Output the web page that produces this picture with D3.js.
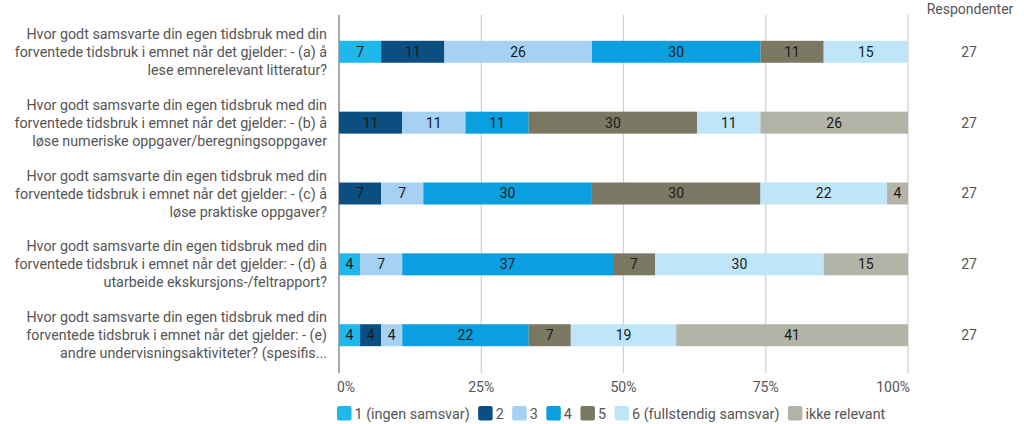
<!DOCTYPE html>
<html><head><meta charset="utf-8">
<script src="https://cdn.jsdelivr.net/npm/d3@7"></script>
<style>
body{margin:0;background:#fff;}
svg{display:block;font-family:Roboto,"Noto Sans",sans-serif;}
</style></head>
<body><svg id="chart" width="1024" height="424"></svg>
<script>
const questions = [
  ["Hvor godt samsvarte din egen tidsbruk med din","forventede tidsbruk i emnet når det gjelder: - (a) å","lese emnerelevant litteratur?"],
  ["Hvor godt samsvarte din egen tidsbruk med din","forventede tidsbruk i emnet når det gjelder: - (b) å","løse numeriske oppgaver/beregningsoppgaver"],
  ["Hvor godt samsvarte din egen tidsbruk med din","forventede tidsbruk i emnet når det gjelder: - (c) å","løse praktiske oppgaver?"],
  ["Hvor godt samsvarte din egen tidsbruk med din","forventede tidsbruk i emnet når det gjelder: - (d) å","utarbeide ekskursjons-/feltrapport?"],
  ["Hvor godt samsvarte din egen tidsbruk med din","forventede tidsbruk i emnet når det gjelder: - (e)","andre undervisningsaktiviteter? (spesifis..."]
];
const categories = ["1 (ingen samsvar)","2","3","4","5","6 (fullstendig samsvar)","ikke relevant"];
const colors = ["#1fb8ec","#0b4f82","#a6d1f3","#0a9fe0","#7a7763","#bfe5f9","#b3b3a7"];
// respondents per answer category, per question (27 each)
const countsA = [2,3,7,8,3,4,0];
const countsB = [0,3,3,3,8,3,7];
const countsC = [0,2,2,8,8,6,1];
const countsD = [1,0,2,10,2,8,4];
const countsE = [1,1,1,6,2,5,11];
const rows = [countsA,countsB,countsC,countsD,countsE];
const respondents = [27,27,27,27,27];
const tickValues = [0,25,50,75,100];

const svg = d3.select("#chart");
const x = d3.scaleLinear().domain([0,100]).range([339,908]);
const y = d3.scaleBand().domain(d3.range(questions.length)).range([16,371]).paddingInner(0.69).paddingOuter(0.35);

// gridlines
svg.append("g").selectAll("line").data(tickValues.slice(1)).join("line")
  .attr("x1",d=>x(d)).attr("x2",d=>x(d)).attr("y1",15).attr("y2",373)
  .attr("stroke","#cfcfcf").attr("stroke-width",1.2);
svg.append("line").attr("x1",x(0)).attr("x2",x(0)).attr("y1",15).attr("y2",373)
  .attr("stroke","#8c8c8c").attr("stroke-width",1.5);

// tick labels
svg.append("g").selectAll("text").data(tickValues).join("text")
  .attr("x",(d,i)=> i===0? x(d)-2 : i===tickValues.length-1 ? x(d)+2 : x(d))
  .attr("y",387).attr("dy","0.35em")
  .attr("text-anchor",(d,i)=> i===0?"start": i===tickValues.length-1?"end":"middle")
  .attr("font-size",14).attr("fill","#555").text(d=>d+"%");

// bars
rows.forEach((counts,ri)=>{
  const total = d3.sum(counts);
  let acc = 0;
  const segs = counts.map((c,ci)=>{ const s={x0:acc/total*100,x1:(acc+c)/total*100,v:c,ci}; acc+=c; return s; }).filter(s=>s.v>0);
  const g = svg.append("g");
  g.selectAll("rect").data(segs).join("rect")
    .attr("x",d=>x(d.x0)).attr("width",d=>x(d.x1)-x(d.x0))
    .attr("y",y(ri)).attr("height",y.bandwidth())
    .attr("fill",d=>colors[d.ci]);
  g.selectAll("text").data(segs).join("text")
    .attr("x",d=>(x(d.x0)+x(d.x1))/2).attr("y",y(ri)+y.bandwidth()/2).attr("dy","0.35em")
    .attr("text-anchor","middle").attr("font-size",14).attr("fill","#1a1a1a")
    .text(d=>Math.round(d.v/total*100));
  // question label
  const cy = y(ri)+y.bandwidth()/2;
  const t = svg.append("text").attr("text-anchor","end").attr("font-size",14.3).attr("fill","#555");
  questions[ri].forEach((line,li)=>{
    t.append("tspan").attr("x",327).attr("y",cy+(li-1)*18).attr("dy","0.35em").text(line);
  });
  svg.append("text").attr("x",969).attr("y",cy).attr("dy","0.35em").attr("text-anchor","middle")
    .attr("font-size",14).attr("fill","#555").text(respondents[ri]);
});

svg.append("text").attr("x",970).attr("y",9).attr("dy","0.35em").attr("text-anchor","middle")
  .attr("font-size",14).attr("fill","#555").text("Respondenter");

// legend
const lg = svg.append("g");
let lx = 337;
categories.forEach((c,i)=>{
  lg.append("rect").attr("x",lx).attr("y",406).attr("width",14.5).attr("height",14.5).attr("rx",2)
    .attr("fill",colors[i]);
  const tx = lg.append("text").attr("x",lx+17.5).attr("y",413.5).attr("dy","0.35em")
    .attr("font-size",14.4).attr("fill","#555").text(c);
  lx += 17.5 + tx.node().getComputedTextLength() + 8.5;
});
</script></body></html>
